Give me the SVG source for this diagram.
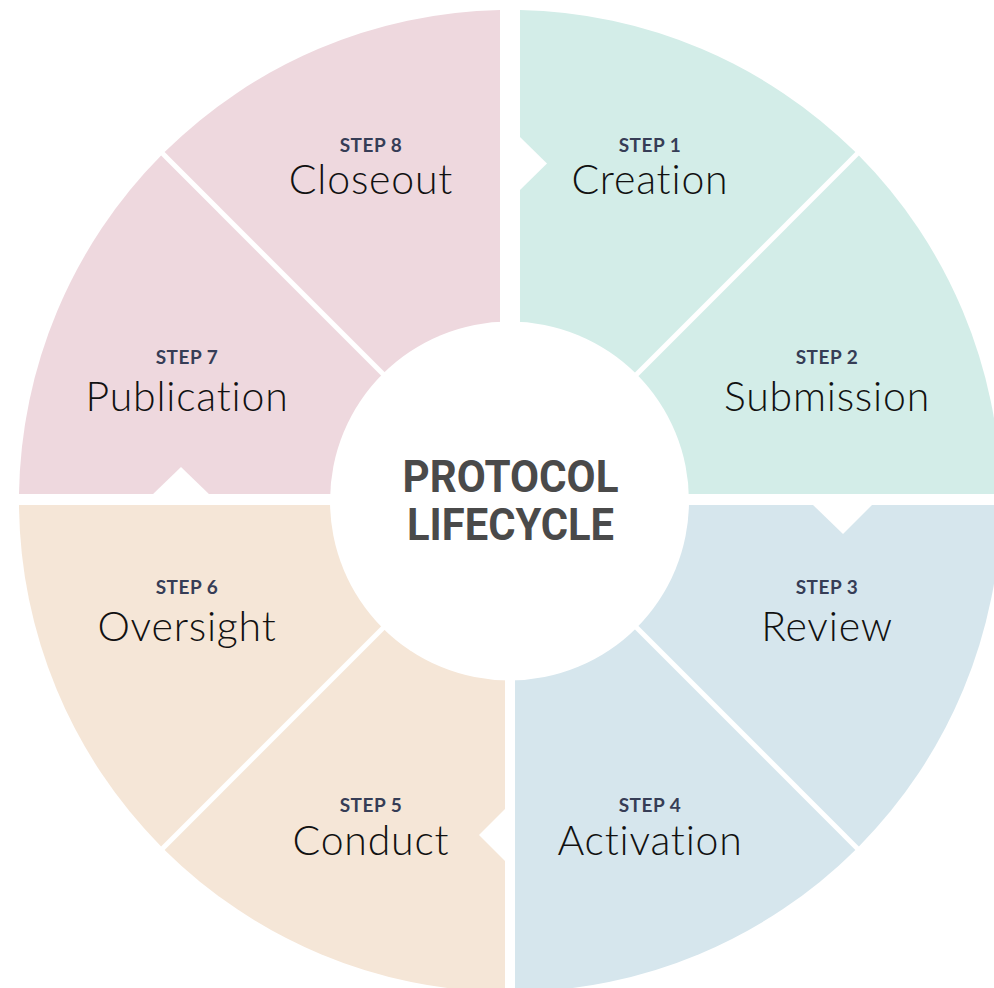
<svg xmlns="http://www.w3.org/2000/svg" width="994" height="988" viewBox="0 0 994 988">
  <style>
    .mint { fill: #d3ede8; }
    .blue { fill: #d6e6ed; }
    .peach { fill: #f5e6d7; }
    .pink { fill: #eed8de; }
    .step { font-family: "Lato", "Liberation Sans", sans-serif; font-weight: 700; font-size: 19px; fill: #363d56; text-anchor: middle; letter-spacing: 0.5px; }
    .label { font-family: "Lato", "Liberation Sans", sans-serif; font-weight: 300; font-size: 41px; fill: #111111; text-anchor: middle; letter-spacing: 0.8px; }
    .hub { font-family: "Roboto", "Liberation Sans", sans-serif; font-weight: 700; font-size: 44px; fill: #4a4a4a; text-anchor: middle; }
    .gap { fill: #ffffff; }
  </style>

  <rect width="994" height="988" fill="#ffffff"/>

  <!-- Ring segments: wheel centred on (510,501), outer radius 491 -->
  <g id="step-1">
    <path class="mint" d="M520,10.1 A491,491 0 0 1 855.4,152.1 L520,487.5 Z"/>
    <text class="step" x="650" y="152">STEP 1</text>
    <text class="label" x="650" y="194">Creation</text>
  </g>
  <g id="step-2">
    <path class="mint" d="M858.9,155.6 A491,491 0 0 1 1001,494 L520.5,494 Z"/>
    <text class="step" x="827" y="364">STEP 2</text>
    <text class="label" x="827" y="411">Submission</text>
  </g>
  <g id="step-3">
    <path class="blue" d="M517.5,505 L1001,505 A491,491 0 0 1 858.9,846.4 Z"/>
    <text class="step" x="827" y="594">STEP 3</text>
    <text class="label" x="827" y="641">Review</text>
  </g>
  <g id="step-4">
    <path class="blue" d="M515,509.5 L855.4,849.9 A491,491 0 0 1 515,992 Z"/>
    <text class="step" x="650" y="812">STEP 4</text>
    <text class="label" x="650" y="855">Activation</text>
  </g>
  <g id="step-5">
    <path class="peach" d="M505,509.5 L505,992 A491,491 0 0 1 164.6,849.9 Z"/>
    <text class="step" x="371" y="812">STEP 5</text>
    <text class="label" x="371" y="855">Conduct</text>
  </g>
  <g id="step-6">
    <path class="peach" d="M502.5,505 L161.1,846.4 A491,491 0 0 1 19,505 Z"/>
    <text class="step" x="187" y="594">STEP 6</text>
    <text class="label" x="187" y="641">Oversight</text>
  </g>
  <g id="step-7">
    <path class="pink" d="M499.5,494 L19,494 A491,491 0 0 1 161.1,155.6 Z"/>
    <text class="step" x="187" y="364">STEP 7</text>
    <text class="label" x="187" y="411">Publication</text>
  </g>
  <g id="step-8">
    <path class="pink" d="M500,487.5 L164.6,152.1 A491,491 0 0 1 500,10.1 Z"/>
    <text class="step" x="371" y="152">STEP 8</text>
    <text class="label" x="371" y="194">Closeout</text>
  </g>

  <!-- Flow arrows between quadrants, cut as white chevrons -->
  <g id="connectors">
    <polygon class="gap" points="519,136 547,163.5 519,191"/>
    <polygon class="gap" points="812,504 843,534 873,504"/>
    <polygon class="gap" points="506,808 479,835 506,862"/>
    <polygon class="gap" points="152,495 181,467 210,495"/>
  </g>

  <!-- Hub -->
  <g id="hub">
    <circle cx="509.5" cy="501" r="179.5" fill="#ffffff"/>
    <text class="hub" x="510.5" y="492" textLength="216" lengthAdjust="spacingAndGlyphs">PROTOCOL</text>
    <text class="hub" x="510.5" y="540" textLength="207" lengthAdjust="spacingAndGlyphs">LIFECYCLE</text>
  </g>
</svg>
